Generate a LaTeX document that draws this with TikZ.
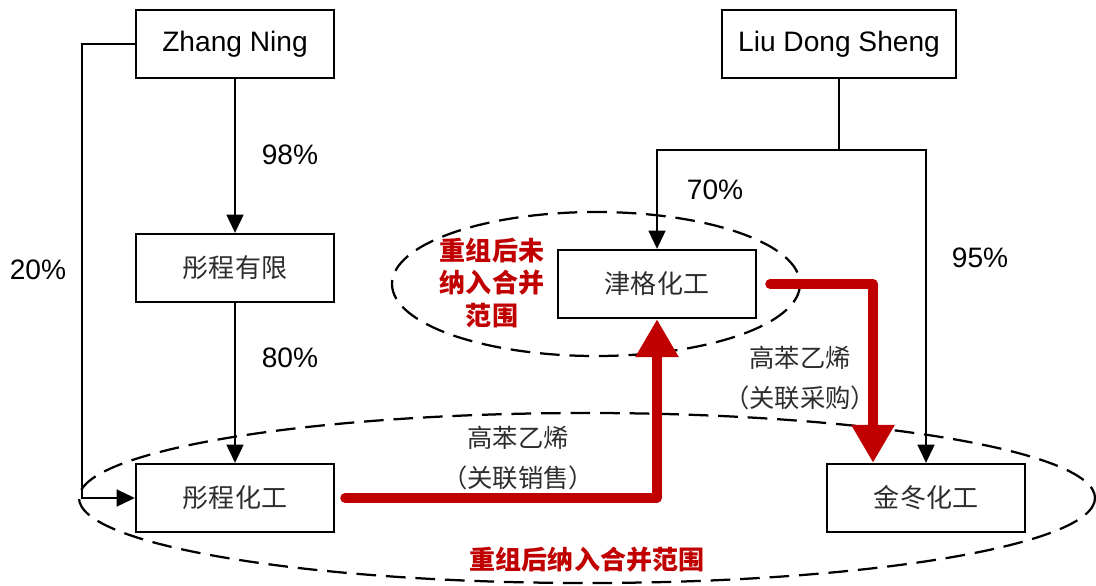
\documentclass[tikz,border=0pt]{standalone}
\usepackage{fontspec}
\setmainfont{Liberation Sans}
\newfontfamily\cjk{Noto Sans CJK SC}
\usetikzlibrary{arrows.meta}
\usetikzlibrary{calc}
\definecolor{darkred}{RGB}{192,0,0}
\definecolor{textgray}{RGB}{45,45,45}
\tikzset{
  entity/.style={draw,line width=1.6pt,minimum width=4.95cm,minimum height=1.7cm,inner sep=0pt,
    font=\fontsize{20}{24}\selectfont},
  cjkentity/.style={entity,text=textgray,font=\cjk\fontsize{18.5}{22}\selectfont},
  share/.style={line width=1.6pt,-{Triangle[length=13pt,width=12pt]}},
  trade/.style={draw=darkred,line width=7pt,line cap=round,line join=round,
    -{Triangle[length=27pt,width=29pt]}},
  consol/.style={line width=1.6pt,dash pattern=on 14pt off 7pt},
  pct/.style={font=\fontsize{20}{24}\selectfont},
  goods/.style={align=center,text=textgray,font=\cjk\fontsize{18}{28}\selectfont},
  note/.style={align=center,text=darkred,font=\cjk\bfseries\fontsize{18.5}{23.4}\selectfont}
}

\begin{document}
\begin{tikzpicture}[x=0.025cm,y=-0.025cm]
  \useasboundingbox (0,0) rectangle (1096,585);
  \draw[consol]
    (587,498) ellipse (508 and 85);
  \draw[consol]
    (596,284) ellipse (204 and 72);
  \node[entity] (zhang) at (235,44) {Zhang Ning};
  \node[entity,minimum width=5.85cm] (liu) at (839,44) {Liu Dong Sheng};
  \node[cjkentity] (tcyx) at (235,268) {彤程有限};
  \node[cjkentity] (tchg) at (235,498) {彤程化工};
  \node[cjkentity] (jghg) at (657,284) {津格化工};
  \node[cjkentity] (jdhg) at (926,498) {金冬化工};
  \coordinate (zleft) at (82,44);
  \coordinate (lsplit) at (839,150);
  \draw[share]
    (zhang.south) -- (tcyx.north);
  \draw[share]
    (tcyx.south) -- (tchg.north);
  \draw[share]
    (zhang.west) -- (zleft) |- (tchg.west);
  \draw[line width=1.6pt]
    (liu.south) -- (lsplit);
  \draw[share]
    (lsplit) -| (jghg.north);
  \draw[share]
    (lsplit) -| (jdhg.north);
  \draw[trade]
    ($(tchg.east)+(10,0)$) -| (jghg.south);
  \draw[trade]
    ($(jghg.east)+(13,0)$) -| ($(jdhg.north)+(-53,0)$);
  \node[pct] (p98) at (290,155) {98\%};
  \node[pct] (p80) at (290,358) {80\%};
  \node[pct] (p20) at (38,270) {20\%};
  \node[pct] (p70) at (715,190) {70\%};
  \node[pct] (p95) at (980,258) {95\%};
  \node[goods] (sale) at (518,458) {高苯乙烯\\（关联销售）};
  \node[goods] (buy) at (800,378) {高苯乙烯\\（关联采购）};
  \node[note] (outnote) at (492,283) {重组后未\\纳入合并\\范围};
  \node[note] (innote) at (587,560) {重组后纳入合并范围};
\end{tikzpicture}
\end{document}
